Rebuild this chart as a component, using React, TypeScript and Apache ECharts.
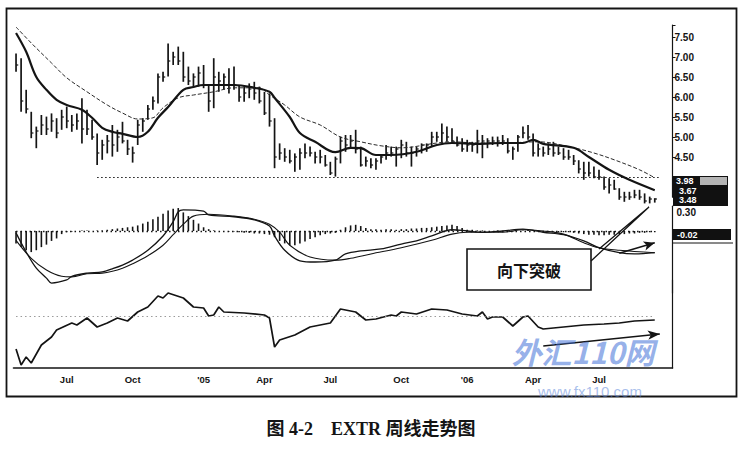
import React, { useEffect, useRef } from 'react';
import * as echarts from 'echarts';

// ---- time axis ----
const START_DATE = '2004-04-23';
const WEEK_COUNT = 130;
const QUARTER_NAMES: Record<number, string> = { 3: 'Apr', 6: 'Jul', 9: 'Oct' };

// ---- weekly price bars (high / low / close) ----
const highs = [
  7.09, 6.97, 6.18, 5.63, 5.26, 5.55, 5.51, 5.59, 5.47, 5.68,
  5.76, 5.55, 5.59, 5.97, 5.68, 5.43, 5.09, 4.93, 5.05, 5.30,
  5.18, 5.38, 4.93, 4.76, 5.43, 5.47, 5.80, 6.01, 6.59, 6.63,
  7.34, 7.13, 7.26, 7.13, 6.76, 6.59, 6.76, 6.80, 6.30, 6.97,
  6.63, 6.59, 6.72, 6.76, 6.30, 6.26, 6.34, 6.38, 6.26, 6.13,
  6.09, 5.47, 4.84, 4.72, 4.68, 4.59, 4.72, 4.84, 4.76, 4.63,
  4.68, 4.55,
  4.38, 4.51, 5.01, 5.05, 5.05, 5.18, 4.76, 4.51, 4.47, 4.47,
  4.55, 4.80, 4.76, 4.76, 4.93, 4.88, 4.76, 4.76, 4.84, 4.84,
  5.13, 5.13, 5.34, 5.26, 5.22, 5.01, 4.97, 4.93, 4.88, 5.18,
  5.05, 4.97, 5.01, 5.01, 5.05, 4.97, 4.76, 5.05, 5.26, 5.30,
  5.09, 4.84, 4.76, 4.84, 4.88, 4.76, 4.72, 4.68, 4.55, 4.42,
  4.38, 4.38, 4.26, 4.18, 4.01, 3.97, 3.93, 3.72, 3.63, 3.63,
  3.68, 3.68, 3.59, 3.51, 3.47,
];
const lows = [
  6.63, 5.63, 5.59, 4.97, 4.72, 5.05, 5.05, 5.13, 4.97, 5.18,
  5.22, 5.13, 5.18, 4.84, 5.05, 4.93, 4.30, 4.43, 4.59, 4.51,
  4.63, 4.84, 4.55, 4.36, 4.80, 5.13, 5.43, 5.68, 5.84, 6.38,
  6.51, 6.80, 6.80, 6.38, 6.30, 6.26, 6.26, 6.22, 5.63, 5.72,
  6.13, 6.18, 6.09, 6.18, 5.88, 5.88, 5.97, 5.93, 5.84, 5.55,
  5.26, 4.22, 4.43, 4.38, 4.34, 4.13, 4.18, 4.47, 4.51, 4.34,
  4.34, 4.26,
  4.05, 4.01, 4.34, 4.63, 4.72, 4.59, 4.26, 4.26, 4.22, 4.18,
  4.34, 4.43, 4.51, 4.26, 4.47, 4.51, 4.26, 4.51, 4.59, 4.63,
  4.76, 4.88, 4.84, 4.88, 4.88, 4.76, 4.63, 4.63, 4.63, 4.59,
  4.47, 4.72, 4.80, 4.76, 4.80, 4.59, 4.43, 4.63, 4.97, 4.93,
  4.51, 4.51, 4.51, 4.55, 4.51, 4.55, 4.43, 4.43, 4.30, 4.09,
  3.93, 4.01, 3.97, 3.93, 3.68, 3.59, 3.68, 3.43, 3.38, 3.43,
  3.47, 3.43, 3.34, 3.34, 3.36,
];
const closes = [
  6.8, 5.9, 5.7, 5.1, 5.15, 5.3, 5.2, 5.4, 5.1, 5.5,
  5.4, 5.3, 5.4, 5.2, 5.2, 5.0, 4.6, 4.8, 4.9, 4.8,
  5.0, 4.9, 4.7, 4.6, 5.3, 5.4, 5.7, 5.9, 6.5, 6.5,
  6.9, 7.0, 6.9, 6.5, 6.4, 6.5, 6.6, 6.3, 5.9, 6.5,
  6.4, 6.5, 6.3, 6.3, 6.0, 6.1, 6.2, 6.1, 5.9, 5.6,
  5.4, 4.5, 4.6, 4.5, 4.4, 4.5, 4.6, 4.6, 4.6, 4.5,
  4.5, 4.3,
  4.1, 4.45, 4.9, 4.8, 4.9, 4.7, 4.3, 4.4, 4.3, 4.4,
  4.5, 4.6, 4.6, 4.7, 4.8, 4.6, 4.6, 4.7, 4.8, 4.8,
  5.0, 5.0, 5.1, 5.0, 4.9, 4.8, 4.7, 4.8, 4.8, 4.9,
  4.9, 4.9, 4.9, 4.9, 4.9, 4.65, 4.7, 5.0, 5.1, 5.0,
  4.6, 4.7, 4.6, 4.7, 4.6, 4.6, 4.5, 4.5, 4.4, 4.2,
  4.1, 4.1, 4.0, 4.0, 3.75, 3.8, 3.7, 3.5, 3.5, 3.5,
  3.55, 3.5, 3.4, 3.45, 3.45,
];

// ---- moving averages: [week index, price] ----
const maFast = [
  [0, 7.6], [2, 7.13], [4, 6.5], [6, 6.18], [8, 5.93], [10, 5.8], [13, 5.68], [15, 5.48],
  [17, 5.23], [19, 5.13], [21, 5.08], [24, 5.0], [26, 5.13], [28, 5.48], [30, 5.75], [33, 6.18],
  [35, 6.25], [37, 6.3], [39, 6.3], [43, 6.3], [47, 6.23], [50, 6.13], [51, 5.98], [54, 5.5],
  [56, 5.1], [59, 4.88], [63, 4.62], [66, 4.73], [68, 4.72], [71, 4.55], [74, 4.55], [79, 4.63],
  [83, 4.8], [86, 4.85], [91, 4.83], [96, 4.85], [100, 4.85], [102, 4.93], [104, 4.83],
  [110, 4.73], [113, 4.5], [117, 4.18], [121, 3.93], [126, 3.67],
];
const maSlow = [
  [0, 7.75], [3, 7.35], [7, 6.85], [10, 6.48], [14, 6.13], [18, 5.8], [21, 5.6], [24, 5.45],
  [27, 5.48], [29, 5.73], [32, 5.98], [35, 6.05], [39, 6.13], [43, 6.23], [48, 6.23], [50, 6.05],
  [53, 5.8], [56, 5.5], [60, 5.3], [64, 5.0], [68, 4.88], [72, 4.78], [76, 4.73], [83, 4.85],
  [86, 4.88], [91, 4.85], [96, 4.85], [103, 4.88], [110, 4.73], [114, 4.6], [118, 4.43],
  [123, 4.18], [126, 3.98],
];
const SUPPORT_LEVEL = 4.0;

// ---- MACD panel ----
const macdHist = [
  -0.2, -0.26, -0.31, -0.34, -0.31, -0.26, -0.22, -0.16, -0.12, -0.05,
  -0.02, -0.01, 0.0, 0.01, 0.01, 0.0,
  0.01, 0.01, 0.02, 0.03, 0.04, 0.05, 0.06, 0.07, 0.09, 0.12, 0.15, 0.19, 0.23, 0.28, 0.33,
  0.36, 0.37, 0.3, 0.24, 0.18, 0.12, 0.06, 0.03,
  0.01, 0.0, 0.0, -0.01, -0.01, -0.02, -0.03, -0.03, -0.04, -0.04, -0.05, -0.06,
  -0.1, -0.16, -0.2, -0.23, -0.23, -0.2, -0.17, -0.13, -0.1, -0.07, -0.05, -0.04, -0.03,
  0.02, 0.06, 0.09, 0.1, 0.08, 0.05, 0.03, 0.03, 0.02, 0.03, 0.03, 0.02, 0.03,
  0.03, 0.04, 0.04, 0.05, 0.05, 0.06, 0.07, 0.08, 0.09, 0.1, 0.08, 0.05,
  0.02, 0.02, 0.01, 0.01, 0.0, 0.0, 0.01, 0.0, 0.0, -0.01, 0.0, 0.01, 0.02, 0.01, 0.0,
  -0.01, -0.01, -0.01, -0.02, -0.02, -0.02, -0.03,
  -0.04, -0.05, -0.06, -0.06, -0.07, -0.07, -0.06, -0.06, -0.05, -0.05, -0.04, -0.04,
  -0.03, -0.03, -0.02, -0.02,
];
const macdLine = [
  [0, -0.03], [2, -0.34], [4, -0.6], [6, -0.76], [7, -0.84], [10, -0.79], [11, -0.73],
  [14, -0.68], [17, -0.66], [19, -0.61], [21, -0.55], [23, -0.47], [26, -0.31], [29, -0.08],
  [31, 0.15], [32, 0.31], [33, 0.34], [37, 0.32], [38, 0.26], [43, 0.23], [47, 0.18],
  [50, 0.08], [51, -0.08], [53, -0.31], [56, -0.48], [59, -0.5], [63, -0.47], [65, -0.37],
  [68, -0.32], [72, -0.29], [76, -0.21], [79, -0.16], [82, -0.08], [86, 0.02], [89, 0.0],
  [92, -0.02], [96, 0.0], [100, 0.03], [104, -0.02], [108, -0.06], [112, -0.16],
  [115, -0.27], [119, -0.35], [122, -0.37], [126, -0.35],
];
const signalLine = [
  [0, -0.15], [3, -0.44], [6, -0.63], [9, -0.73], [11, -0.74], [14, -0.69], [17, -0.68],
  [19, -0.65], [21, -0.6], [23, -0.53], [26, -0.4], [29, -0.23], [31, -0.06], [33, 0.11],
  [35, 0.24], [38, 0.27], [43, 0.24], [47, 0.19], [50, 0.11], [52, -0.02], [54, -0.23],
  [58, -0.42], [63, -0.47], [66, -0.44], [70, -0.37], [76, -0.27], [82, -0.15], [86, -0.05],
  [89, -0.02], [96, -0.02], [100, 0.02], [104, 0.0], [108, -0.05], [112, -0.19],
  [115, -0.27], [119, -0.31], [126, -0.35],
];

// ---- lower panel line ----
const strengthLine = [
  [0, 1.9], [1, 0.3], [2, 1.1], [3, 0.5], [5, 2.3], [7, 3.1], [8, 3.8], [11, 4.5], [12, 4.3],
  [14, 5.0], [16, 4.1], [18, 4.5], [20, 5.0], [22, 4.7], [24, 5.6], [26, 6.1], [28, 7.2],
  [29, 7.0], [30, 7.5], [33, 7.0], [35, 6.1], [37, 6.0], [38, 5.2], [39, 5.3], [40, 6.1],
  [41, 5.6], [45, 5.5], [49, 5.3], [50, 5.0], [51, 2.1], [52, 2.8], [55, 3.3], [58, 4.1],
  [62, 4.5], [64, 5.9], [67, 5.6], [69, 4.8], [71, 4.9], [74, 5.3], [75, 5.2], [76, 5.6],
  [79, 5.4], [82, 5.9], [85, 5.8], [88, 5.4], [91, 5.2], [92, 5.6], [93, 4.9], [94, 5.1],
  [96, 5.1], [98, 4.2], [100, 5.1], [101, 5.2], [103, 4.1], [104, 3.9], [108, 4.1],
  [112, 4.3], [116, 4.4], [119, 4.5], [122, 4.7], [126, 4.8],
];
const STRENGTH_REF = 5.2;

// ---- texts ----
const PRICE_LABELS = [4.5, 5.0, 5.5, 6.0, 6.5, 7.0, 7.5];
const LAST_PRICE_TAGS = ['3.98', '3.67', '3.48'];
const MACD_LABEL = 0.3;
const MACD_TAG = '-0.02';
const CALLOUT_TEXT = '向下突破';
const CAPTION = '图 4-2    EXTR 周线走势图';
const WATERMARK_1 = '外汇110网';
const WATERMARK_2 = 'www.fx110.com';

function buildDates(): string[] {
  const [y, m, d] = START_DATE.split('-').map(Number);
  const t0 = Date.UTC(y, m - 1, d);
  const out: string[] = [];
  for (let i = 0; i < WEEK_COUNT; i++) {
    const dt = new Date(t0 + i * 7 * 86400000);
    out.push(dt.toISOString().slice(0, 10));
  }
  return out;
}
const dates = buildDates();
const labelMap: Record<number, string> = {};
dates.forEach((s, i) => {
  if (i === 0 || i >= highs.length) return;
  const mo = Number(s.slice(5, 7)) - 1;
  const prevMo = Number(dates[i - 1].slice(5, 7)) - 1;
  if (mo !== prevMo && mo % 3 === 0) {
    labelMap[i] = mo === 0 ? "'" + s.slice(2, 4) : QUARTER_NAMES[mo];
  }
});

const NARROW = "'Liberation Sans Narrow', 'Liberation Sans', Arial, sans-serif";
const INK = '#141414';

export default function App() {
  const ref = useRef<HTMLDivElement>(null);
  useEffect(() => {
    if (!ref.current) return;
    const chart = echarts.init(ref.current, undefined, { renderer: 'svg' });
    const gridL = 13.5;
    const gridW = 659;
    const ohlc = highs.map((h, i) => [i, h, lows[i], closes[i]]);
    const option: any = {
      animation: false,
      backgroundColor: '#ffffff',
      grid: [
        { left: gridL, width: gridW, top: 25, height: 172 },
        { left: gridL, width: gridW, top: 206.2, height: 86.8 },
        { left: gridL, width: gridW, top: 280, height: 88 },
      ],
      xAxis: [0, 1, 2].map((g) => ({
        type: 'category',
        gridIndex: g,
        data: dates,
        boundaryGap: true,
        show: g === 2,
        axisLine: { show: true, lineStyle: { color: INK, width: 1.6 } },
        axisTick: { show: false },
        splitLine: { show: false },
        axisLabel: {
          interval: (idx: number) => labelMap[idx] !== undefined,
          formatter: (_v: string, idx: number) => labelMap[idx] || '',
          color: INK,
          fontSize: 9.5,
          fontWeight: 'bold',
          fontFamily: NARROW,
          margin: 6,
        },
      })),
      yAxis: [
        {
          type: 'value',
          gridIndex: 0,
          position: 'right',
          min: 3.5,
          max: 7.8,
          interval: 0.5,
          splitLine: { show: false },
          axisLine: { show: true, lineStyle: { color: INK, width: 1.2 } },
          axisTick: { show: true, length: 3, lineStyle: { color: INK, width: 1 } },
          axisLabel: {
            margin: 2,
            color: INK,
            fontSize: 10,
            fontWeight: 'bold',
            fontFamily: NARROW,
            formatter: (v: number) =>
              PRICE_LABELS.some((p) => Math.abs(p - v) < 1e-6) ? v.toFixed(2) : '',
          },
        },
        {
          type: 'value',
          gridIndex: 1,
          position: 'right',
          min: -1.0,
          max: 0.4,
          interval: 0.1,
          splitLine: { show: false },
          axisLine: { show: true, lineStyle: { color: INK, width: 1.2 } },
          axisTick: { show: false },
          axisLabel: {
            margin: 4,
            color: INK,
            fontSize: 10,
            fontWeight: 'bold',
            fontFamily: NARROW,
            formatter: (v: number) => (Math.abs(v - MACD_LABEL) < 1e-6 ? v.toFixed(2) : ''),
          },
        },
        {
          type: 'value',
          gridIndex: 2,
          position: 'right',
          min: 0,
          max: 8.8,
          splitLine: { show: false },
          axisLine: { show: true, lineStyle: { color: INK, width: 1.2 } },
          axisTick: { show: false },
          axisLabel: { show: false },
        },
      ],
      series: [
        {
          type: 'custom',
          name: 'bars',
          xAxisIndex: 0,
          yAxisIndex: 0,
          encode: { x: 0, y: [1, 2, 3] },
          data: ohlc,
          renderItem: (_p: any, api: any) => {
            const i = api.value(0);
            const hi = api.coord([i, api.value(1)]);
            const lo = api.coord([i, api.value(2)]);
            const cl = api.coord([i, api.value(3)]);
            return {
              type: 'group',
              children: [
                {
                  type: 'line',
                  shape: { x1: hi[0], y1: hi[1], x2: lo[0], y2: lo[1] },
                  style: { stroke: INK, lineWidth: 1.7 },
                },
                {
                  type: 'line',
                  shape: { x1: cl[0], y1: cl[1], x2: cl[0] + 2.2, y2: cl[1] },
                  style: { stroke: INK, lineWidth: 1.2 },
                },
              ],
            };
          },
          markLine: {
            silent: true,
            symbol: 'none',
            label: { show: false },
            lineStyle: { color: INK, type: [1.5, 2.5], width: 1.2 },
            data: [[{ coord: [16, SUPPORT_LEVEL] }, { coord: [127, SUPPORT_LEVEL] }]],
          },
        },
        {
          type: 'line',
          name: 'maSlow',
          xAxisIndex: 0,
          yAxisIndex: 0,
          data: maSlow,
          smooth: 0.35,
          symbol: 'none',
          lineStyle: { color: '#2a2a2a', width: 1, type: [4, 2] },
        },
        {
          type: 'line',
          name: 'maFast',
          xAxisIndex: 0,
          yAxisIndex: 0,
          data: maFast,
          smooth: 0.35,
          symbol: 'none',
          lineStyle: { color: INK, width: 2.2 },
        },
        {
          type: 'bar',
          name: 'hist',
          xAxisIndex: 1,
          yAxisIndex: 1,
          data: macdHist,
          barWidth: 1.6,
          itemStyle: { color: INK },
          markLine: {
            silent: true,
            symbol: 'none',
            label: { show: false },
            lineStyle: { color: INK, type: [1.5, 3], width: 1.3 },
            data: [[{ coord: [0, 0] }, { coord: [126, 0] }]],
          },
        },
        {
          type: 'line',
          name: 'signal',
          xAxisIndex: 1,
          yAxisIndex: 1,
          data: signalLine,
          smooth: 0.35,
          symbol: 'none',
          lineStyle: { color: INK, width: 1.1 },
        },
        {
          type: 'line',
          name: 'macd',
          xAxisIndex: 1,
          yAxisIndex: 1,
          data: macdLine,
          smooth: 0.35,
          symbol: 'none',
          lineStyle: { color: INK, width: 1.3 },
          markLine: {
            silent: true,
            symbol: ['none', 'arrow'],
            symbolSize: [7, 11],
            label: { show: false },
            lineStyle: { color: INK, type: 'solid', width: 1.5 },
            data: [[{ coord: [119, -0.36] }, { coord: [126, -0.19] }]],
          },
        },
        {
          type: 'line',
          name: 'strength',
          xAxisIndex: 2,
          yAxisIndex: 2,
          data: strengthLine,
          symbol: 'none',
          lineStyle: { color: INK, width: 1.7 },
          markLine: {
            silent: true,
            symbol: ['none', 'arrow'],
            symbolSize: [7, 12],
            label: { show: false },
            data: [
              [
                { coord: [0, STRENGTH_REF], lineStyle: { color: '#9a9a9a', type: [1.5, 3], width: 1 }, symbol: 'none' },
                { coord: [126, STRENGTH_REF], symbol: 'none' },
              ],
              [
                { coord: [104, 2.2], lineStyle: { color: INK, type: 'solid', width: 1.5 } },
                { coord: [127, 3.4] },
              ],
            ],
          },
        },
      ],
      graphic: [
        {
          type: 'rect',
          shape: { x: 6.5, y: 8.5, width: 730, height: 388 },
          style: { fill: 'none', stroke: INK, lineWidth: 1.8 },
          z: 1,
        },
        {
          type: 'rect',
          shape: { x: 467, y: 249, width: 124, height: 41 },
          style: { fill: '#ffffff', stroke: INK, lineWidth: 1.6 },
          z: 5,
        },
        {
          type: 'text',
          x: 529,
          y: 270,
          style: {
            text: CALLOUT_TEXT,
            fill: INK,
            fontSize: 16,
            fontWeight: 'bold',
            fontFamily: "'Noto Sans CJK SC', sans-serif",
            textAlign: 'center',
            textVerticalAlign: 'middle',
          },
          z: 6,
        },
        {
          type: 'polyline',
          shape: { points: [[591, 261], [649, 207], [599, 249]] },
          style: { fill: 'none', stroke: INK, lineWidth: 1.3 },
          z: 6,
        },
        {
          type: 'rect',
          shape: { x: 673, y: 176, width: 55, height: 30 },
          style: { fill: '#111111' },
          z: 10,
        },
        {
          type: 'rect',
          shape: { x: 700, y: 177, width: 27, height: 8 },
          style: { fill: '#b4b4b4' },
          z: 11,
        },
        ...LAST_PRICE_TAGS.map((t, k) => ({
          type: 'text',
          x: 676 + (k === 0 ? 0 : 3),
          y: 181 + k * 9.5,
          style: {
            text: t,
            fill: '#ffffff',
            fontSize: 9,
            fontWeight: 'bold',
            fontFamily: NARROW,
            textVerticalAlign: 'middle',
          },
          z: 12,
        })),
        {
          type: 'rect',
          shape: { x: 673, y: 229, width: 58, height: 11 },
          style: { fill: '#111111' },
          z: 10,
        },
        {
          type: 'line',
          shape: { x1: 673, y1: 243, x2: 733, y2: 243 },
          style: { stroke: INK, lineWidth: 1 },
          z: 10,
        },
        {
          type: 'text',
          x: 677,
          y: 234.5,
          style: {
            text: MACD_TAG,
            fill: '#ffffff',
            fontSize: 9,
            fontWeight: 'bold',
            fontFamily: NARROW,
            textVerticalAlign: 'middle',
          },
          z: 12,
        },
        {
          type: 'text',
          x: 371,
          y: 429,
          style: {
            text: CAPTION,
            fill: INK,
            fontSize: 18,
            fontWeight: 'bold',
            fontFamily: "'Liberation Serif', 'Noto Sans CJK SC', serif",
            textAlign: 'center',
            textVerticalAlign: 'middle',
          },
          z: 5,
        },
        {
          type: 'text',
          x: 583,
          y: 351,
          style: {
            text: WATERMARK_1,
            fill: 'rgba(60,110,215,0.55)',
            fontSize: 30,
            fontWeight: 'bold',
            fontStyle: 'italic',
            fontFamily: "'Noto Sans CJK SC', sans-serif",
            textAlign: 'center',
            textVerticalAlign: 'middle',
          },
          z: 20,
        },
        {
          type: 'text',
          x: 590,
          y: 391.5,
          style: {
            text: WATERMARK_2,
            fill: 'rgba(80,125,215,0.5)',
            fontSize: 15,
            fontFamily: "'Liberation Sans', Arial, sans-serif",
            textAlign: 'center',
            textVerticalAlign: 'middle',
          },
          z: 20,
        },
      ],
    };
    chart.setOption(option);
    return () => chart.dispose();
  }, []);
  return (
    <div
      ref={ref}
      style={{ position: 'fixed', left: 0, top: 0, width: 743, height: 453, background: '#fff' }}
    />
  );
}
